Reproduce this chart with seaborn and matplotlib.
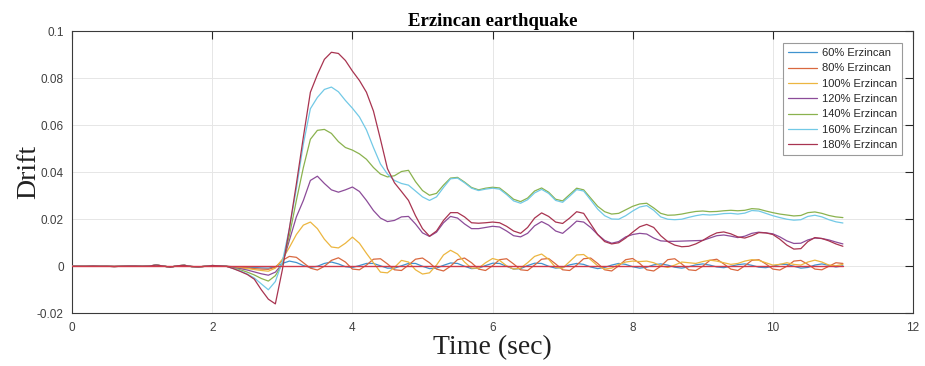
import numpy as np
import pandas as pd
import matplotlib
matplotlib.use("Agg")
import matplotlib.pyplot as plt
import seaborn as sns

# ---- data -----------------------------------------------------------------
# Shared quiet segment, t = 0.0 ... 1.9 s (step 0.1)
early_drift = [0.0, 0.0, 0.0, 0.0001, 0.0, 0.0, -0.0001, 0.0, 0.0001, 0.0001,
               0.0, 0.0001, 0.0005, 0.0001, -0.0004, 0.0002, 0.0004, -0.0001, -0.0003, 0.0]

# Response for each scaling level, t = 2.0 ... 11.0 s (step 0.1)
drift_60 = [
    0.0003, 0.0002, 0.0, -0.0002, -0.0003, -0.0004, -0.0005, -0.0007, -0.0008, -0.0002,
    0.0012, 0.0022, 0.0016, 0.0003, -0.0005, 0.0000, 0.0012, 0.0018, 0.0010, -0.0002,
    -0.0005, 0.0003, 0.0012, 0.0012, 0.0002, -0.0008, -0.0008, 0.0002, 0.0012, 0.0012,
    0.0000, -0.0010, -0.0008, 0.0004, 0.0014, 0.0012, 0.0000, -0.0010, -0.0008, 0.0003,
    0.0013, 0.0012, 0.0000, -0.0012, -0.0010, 0.0003, 0.0013, 0.0012, 0.0000, -0.0008,
    -0.0005, 0.0006, 0.0012, 0.0008, -0.0003, -0.0010, -0.0005, 0.0005, 0.0012, 0.0008,
    -0.0002, -0.0008, -0.0004, 0.0006, 0.0010, 0.0005, -0.0004, -0.0008, -0.0002, 0.0006,
    0.0010, 0.0005, -0.0003, -0.0006, 0.0000, 0.0007, 0.0010, 0.0004, -0.0004, -0.0006,
    0.0000, 0.0008, 0.0008, 0.0000, -0.0008, -0.0005, 0.0005, 0.0010, 0.0004, -0.0003,
    0.0002]

drift_80 = [
    0.0003, 0.0002, 0.0, -0.0003, -0.0005, -0.0007, -0.0010, -0.0012, -0.0013, -0.0004,
    0.0025, 0.0042, 0.0038, 0.0015, -0.0008, -0.0016, 0.0000, 0.0025, 0.0036, 0.0018,
    -0.0012, -0.0015, 0.0005, 0.0030, 0.0032, 0.0010, -0.0015, -0.0018, 0.0005, 0.0030,
    0.0035, 0.0015, -0.0012, -0.0020, 0.0000, 0.0028, 0.0035, 0.0015, -0.0012, -0.0018,
    0.0002, 0.0028, 0.0032, 0.0010, -0.0015, -0.0018, 0.0005, 0.0030, 0.0033, 0.0010,
    -0.0015, -0.0018, 0.0005, 0.0032, 0.0035, 0.0012, -0.0015, -0.0020, 0.0002, 0.0028,
    0.0033, 0.0012, -0.0015, -0.0020, 0.0000, 0.0028, 0.0032, 0.0010, -0.0015, -0.0018,
    0.0000, 0.0025, 0.0030, 0.0010, -0.0012, -0.0018, 0.0002, 0.0025, 0.0028, 0.0010,
    -0.0012, -0.0016, 0.0000, 0.0022, 0.0025, 0.0008, -0.0012, -0.0015, 0.0000, 0.0015,
    0.0012]

drift_100 = [
    0.0003, 0.0002, 0.0, -0.0004, -0.0007, -0.0010, -0.0014, -0.0018, -0.0021, -0.0008,
    0.0030, 0.0080, 0.0135, 0.0175, 0.0188, 0.0160, 0.0115, 0.0082, 0.0078, 0.0098,
    0.0124, 0.0098, 0.0055, 0.0015, -0.0025, -0.0028, -0.0005, 0.0025, 0.0018, -0.0015,
    -0.0033, -0.0028, 0.0005, 0.0048, 0.0068, 0.0052, 0.0018, -0.0008, -0.0008, 0.0015,
    0.0033, 0.0025, 0.0002, -0.0012, -0.0008, 0.0015, 0.0042, 0.0052, 0.0030, -0.0005,
    -0.0008, 0.0020, 0.0048, 0.0050, 0.0028, 0.0002, -0.0012, -0.0008, 0.0008, 0.0018,
    0.0022, 0.0020, 0.0022, 0.0015, 0.0002, -0.0005, 0.0005, 0.0018, 0.0015, 0.0012,
    0.0020, 0.0026, 0.0022, 0.0015, 0.0008, 0.0012, 0.0022, 0.0028, 0.0025, 0.0015,
    0.0005, 0.0008, 0.0015, 0.0008, 0.0005, 0.0018, 0.0026, 0.0018, 0.0005, 0.0002,
    0.0008]

drift_120 = [
    0.0003, 0.0002, 0.0, -0.0006, -0.0010, -0.0016, -0.0024, -0.0032, -0.0038, -0.0025,
    0.0010, 0.0110, 0.0210, 0.0280, 0.0365, 0.0383, 0.0352, 0.0325, 0.0315, 0.0325,
    0.0337, 0.0318, 0.0280, 0.0237, 0.0205, 0.0190, 0.0195, 0.0210, 0.0212, 0.0180,
    0.0142, 0.0127, 0.0145, 0.0185, 0.0212, 0.0205, 0.0180, 0.0160, 0.0160, 0.0165,
    0.0170, 0.0167, 0.0150, 0.0130, 0.0125, 0.0140, 0.0172, 0.0190, 0.0175, 0.0150,
    0.0140, 0.0165, 0.0192, 0.0188, 0.0165, 0.0135, 0.0110, 0.0098, 0.0105, 0.0125,
    0.0135, 0.0140, 0.0137, 0.0120, 0.0108, 0.0106, 0.0106, 0.0107, 0.0108, 0.0109,
    0.0110, 0.0120, 0.0130, 0.0133, 0.0128, 0.0122, 0.0128, 0.0140, 0.0145, 0.0142,
    0.0138, 0.0125, 0.0108, 0.0097, 0.0098, 0.0112, 0.0120, 0.0118, 0.0112, 0.0103,
    0.0095]

drift_140 = [
    0.0003, 0.0002, 0.0, -0.0008, -0.0015, -0.0025, -0.0037, -0.0052, -0.0063, -0.0040,
    0.0010, 0.0130, 0.0280, 0.0420, 0.0540, 0.0578, 0.0582, 0.0565, 0.0530, 0.0505,
    0.0494, 0.0478, 0.0455, 0.0420, 0.0392, 0.0380, 0.0385, 0.0403, 0.0408, 0.0360,
    0.0322, 0.0302, 0.0310, 0.0345, 0.0375, 0.0378, 0.0358, 0.0335, 0.0325, 0.0332,
    0.0336, 0.0333, 0.0310, 0.0285, 0.0275, 0.0290, 0.0320, 0.0333, 0.0315, 0.0285,
    0.0278, 0.0305, 0.0332, 0.0325, 0.0290, 0.0255, 0.0232, 0.0222, 0.0225, 0.0240,
    0.0255, 0.0265, 0.0268, 0.0248, 0.0225, 0.0217, 0.0218, 0.0222, 0.0228, 0.0233,
    0.0235, 0.0232, 0.0233, 0.0236, 0.0238, 0.0236, 0.0238, 0.0245, 0.0243, 0.0235,
    0.0228, 0.0222, 0.0218, 0.0214, 0.0216, 0.0228, 0.0231, 0.0225, 0.0216, 0.0210,
    0.0207]

drift_160 = [
    0.0003, 0.0002, 0.0, -0.0010, -0.0020, -0.0033, -0.0050, -0.0075, -0.0100, -0.0065,
    0.0020, 0.0160, 0.0330, 0.0520, 0.0670, 0.0718, 0.0752, 0.0762, 0.0742, 0.0705,
    0.0672, 0.0635, 0.0580, 0.0505, 0.0435, 0.0392, 0.0365, 0.0352, 0.0345, 0.0320,
    0.0295, 0.0280, 0.0295, 0.0335, 0.0372, 0.0375, 0.0355, 0.0332, 0.0322, 0.0328,
    0.0332, 0.0328, 0.0305, 0.0278, 0.0268, 0.0283, 0.0312, 0.0327, 0.0310, 0.0280,
    0.0272, 0.0298, 0.0326, 0.0320, 0.0282, 0.0243, 0.0215, 0.0201, 0.0200, 0.0215,
    0.0235, 0.0252, 0.0258, 0.0238, 0.0210, 0.0200, 0.0198, 0.0200, 0.0208, 0.0215,
    0.0220, 0.0218, 0.0220, 0.0224, 0.0225, 0.0222, 0.0226, 0.0237, 0.0235, 0.0225,
    0.0215, 0.0207, 0.0200, 0.0196, 0.0198, 0.0212, 0.0217, 0.0210, 0.0198, 0.0189,
    0.0184]

drift_180 = [
    0.0003, 0.0002, 0.0, -0.0010, -0.0022, -0.0035, -0.0055, -0.0100, -0.0140, -0.0160,
    -0.0015, 0.0160, 0.0350, 0.0550, 0.0740, 0.0815, 0.0880, 0.0910, 0.0905, 0.0875,
    0.0830, 0.0790, 0.0740, 0.0660, 0.0540, 0.0415, 0.0355, 0.0318, 0.0280, 0.0215,
    0.0160, 0.0128, 0.0150, 0.0195, 0.0228, 0.0228, 0.0210, 0.0185, 0.0183, 0.0185,
    0.0188, 0.0185, 0.0170, 0.0150, 0.0140, 0.0165, 0.0205, 0.0227, 0.0212, 0.0188,
    0.0182, 0.0205, 0.0232, 0.0225, 0.0180, 0.0135, 0.0105, 0.0095, 0.0100, 0.0120,
    0.0145, 0.0168, 0.0178, 0.0165, 0.0130, 0.0105, 0.0090, 0.0083, 0.0085, 0.0095,
    0.0110, 0.0128, 0.0142, 0.0146, 0.0138, 0.0125, 0.0120, 0.0130, 0.0143, 0.0142,
    0.0135, 0.0115, 0.0090, 0.0073, 0.0075, 0.0105, 0.0122, 0.0118, 0.0108, 0.0095,
    0.0085]

case_labels = ["60% Erzincan", "80% Erzincan", "100% Erzincan", "120% Erzincan",
               "140% Erzincan", "160% Erzincan", "180% Erzincan"]
case_drifts = [drift_60, drift_80, drift_100, drift_120, drift_140, drift_160, drift_180]
case_colors = ["#3f93cf", "#d9683f", "#ecb640", "#8c4c99", "#8ab24e", "#72c9e6", "#a83450"]

x_ticks = [0, 2, 4, 6, 8, 10, 12]
y_ticks = [-0.02, 0, 0.02, 0.04, 0.06, 0.08, 0.1]
y_tick_labels = ["-0.02", "0", "0.02", "0.04", "0.06", "0.08", "0.1"]

# ---- long-form table ------------------------------------------------------
time = np.round(np.arange(0, 111) * 0.1, 1)
frames = []
for label, drift in zip(case_labels, case_drifts):
    frames.append(pd.DataFrame({"Time": time,
                                "Drift": early_drift + drift,
                                "Case": label}))
df = pd.concat(frames, ignore_index=True)

# ---- figure ---------------------------------------------------------------
sns.set_theme(style="white")
plt.rcParams["font.family"] = ["Liberation Sans", "DejaVu Sans"]
plt.rcParams["lines.solid_joinstyle"] = "round"

fig = plt.figure(figsize=(9.25, 3.66), dpi=100)
ax = fig.add_axes([0.078, 0.144, 0.909, 0.771])

ax.grid(True, color="#e6e6e6", linewidth=0.7, zorder=0)
ax.set_axisbelow(True)

sns.lineplot(data=df, x="Time", y="Drift", hue="Case", hue_order=case_labels,
             palette=dict(zip(case_labels, case_colors)), linewidth=0.9,
             estimator=None, sort=False, ax=ax, zorder=3)

# zero reference line over the record length
ax.plot(time, np.zeros_like(time), color="#cf3a4a", linewidth=1.0, zorder=4)

ax.set_xlim(0, 12)
ax.set_ylim(-0.02, 0.1)
ax.set_xticks(x_ticks)
ax.set_xticklabels([str(t) for t in x_ticks])
ax.set_yticks(y_ticks)
ax.set_yticklabels(y_tick_labels)
ax.tick_params(direction="in", length=6, width=0.8, colors="#262626",
               labelcolor="#404040", labelsize=8.5, top=True, right=True,
               pad=6)

for side in ax.spines.values():
    side.set_color("#3a3a3a")
    side.set_linewidth(0.8)

ax.set_title("Erzincan earthquake", family="Liberation Serif", fontweight="bold",
             fontsize=13.5, color="black", pad=4)
ax.set_xlabel("Time (sec)", family="Liberation Serif", fontsize=20, color="#202020",
              labelpad=1)
ax.set_ylabel("Drift", family="Liberation Serif", fontsize=20, color="#202020",
              labelpad=-3)

leg = ax.legend(loc="upper right", bbox_to_anchor=(0.9935, 0.977), fontsize=8,
                frameon=True, fancybox=False, framealpha=1, edgecolor="#9a9a9a",
                handlelength=2.6, handletextpad=0.4, labelspacing=0.48,
                borderpad=0.45, title=None)
leg.get_frame().set_linewidth(0.8)
for line in leg.get_lines():
    line.set_linewidth(0.9)

fig.savefig("out.png", dpi=100)
